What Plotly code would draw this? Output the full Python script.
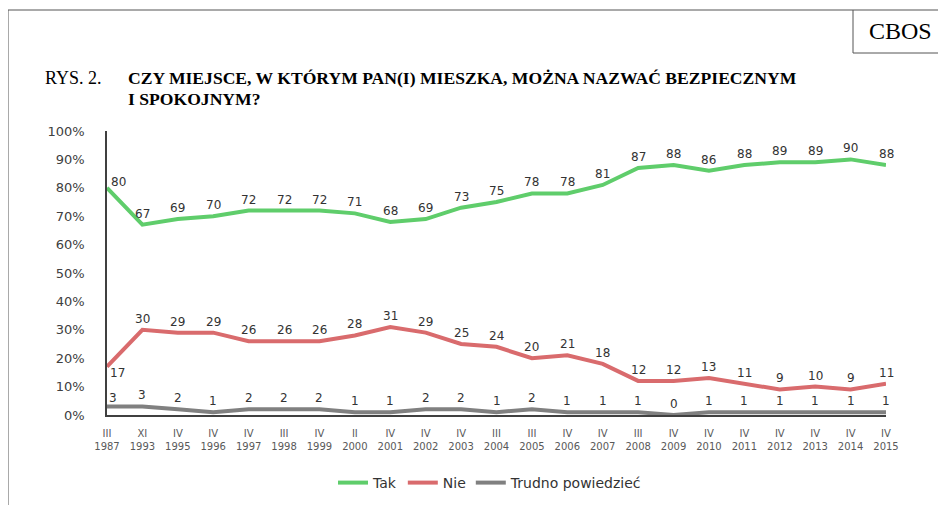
import plotly.graph_objects as go

quarters = ["III", "XI", "IV", "IV", "IV", "III", "IV", "II", "IV", "IV", "IV", "III",
            "III", "IV", "IV", "III", "IV", "IV", "IV", "IV", "IV", "IV", "IV"]
years = ["1987", "1993", "1995", "1996", "1997", "1998", "1999", "2000", "2001", "2002",
         "2003", "2004", "2005", "2006", "2007", "2008", "2009", "2010", "2011", "2012",
         "2013", "2014", "2015"]
tak = [80, 67, 69, 70, 72, 72, 72, 71, 68, 69, 73, 75, 78, 78, 81, 87, 88, 86, 88, 89, 89, 90, 88]
nie = [17, 30, 29, 29, 26, 26, 26, 28, 31, 29, 25, 24, 20, 21, 18, 12, 12, 13, 11, 9, 10, 9, 11]
trudno = [3, 3, 2, 1, 2, 2, 2, 1, 1, 2, 2, 1, 2, 1, 1, 1, 0, 1, 1, 1, 1, 1, 1]
y_ticks = [0, 10, 20, 30, 40, 50, 60, 70, 80, 90, 100]

series_names = ["Tak", "Nie", "Trudno powiedzieć"]
colors = ["#5fcd6b", "#d96b6d", "#808080"]

# The page body has an 8px default margin; work in window pixels and offset.
OFF = 8
WIN_W, WIN_H = 946, 505
W, H = WIN_W - OFF, WIN_H - OFF
L, R, T, B = 107, 886, 131, 415  # plot area in window pixels

def px(x):
    return (x - L) / (R - L)

def py(y):
    return (B - y) / (B - T)

xs = list(range(len(years)))
fig = go.Figure()
for name, vals, col in zip(series_names, [tak, nie, trudno], colors):
    fig.add_trace(go.Scatter(x=xs, y=vals, mode="lines", name=name,
                             line=dict(color=col, width=4), cliponaxis=False))

annotations = []
label_font = dict(family="DejaVu Sans", size=12, color="#333333")
for si, vals in enumerate([tak, nie, trudno]):
    for i, v in enumerate(vals):
        xshift, yshift = 0, 11
        if i == 0:
            if si == 0:
                xshift, yshift = 11, 6
            elif si == 1:
                xshift, yshift = 10, -6
            else:
                xshift, yshift = 6, 8
        annotations.append(dict(x=i, y=v, xref="x", yref="y", text=str(v), showarrow=False,
                                xshift=xshift, yshift=yshift, font=label_font))

# Header texts
annotations.append(dict(xref="paper", yref="paper", x=px(900), y=py(31), text="CBOS",
                        showarrow=False, xanchor="center", yanchor="middle",
                        font=dict(family="Liberation Serif", size=24, color="#000000")))
annotations.append(dict(xref="paper", yref="paper", x=px(43), y=py(78), text="RYS. 2.",
                        showarrow=False, xanchor="left", yanchor="middle",
                        font=dict(family="Liberation Serif", size=18, color="#000000")))
annotations.append(dict(xref="paper", yref="paper", x=px(126), y=py(78),
                        text="<b>CZY MIEJSCE, W KTÓRYM PAN(I) MIESZKA, MOŻNA NAZWAĆ BEZPIECZNYM</b>",
                        showarrow=False, xanchor="left", yanchor="middle",
                        font=dict(family="Liberation Serif", size=17.6, color="#000000")))
annotations.append(dict(xref="paper", yref="paper", x=px(126), y=py(99),
                        text="<b>I SPOKOJNYM?</b>",
                        showarrow=False, xanchor="left", yanchor="middle",
                        font=dict(family="Liberation Serif", size=17.6, color="#000000")))

shapes = [
    dict(type="line", xref="paper", yref="paper", x0=px(7), x1=px(950), y0=py(10), y1=py(10),
         line=dict(color="#555555", width=1)),
    dict(type="line", xref="paper", yref="paper", x0=px(8), x1=px(8), y0=py(10), y1=py(510),
         line=dict(color="#555555", width=1)),
    dict(type="line", xref="paper", yref="paper", x0=px(853), x1=px(853), y0=py(10), y1=py(53),
         line=dict(color="#555555", width=1)),
    dict(type="line", xref="paper", yref="paper", x0=px(853), x1=px(950), y0=py(53), y1=py(53),
         line=dict(color="#555555", width=1)),
]

fig.update_layout(
    template="none",
    width=W, height=H,
    margin=dict(l=L - OFF, r=WIN_W - R, t=T - OFF, b=WIN_H - B, pad=0, autoexpand=False),
    paper_bgcolor="white", plot_bgcolor="white",
    showlegend=True,
    legend=dict(orientation="h", xref="container", yref="container",
                x=(490 - OFF) / W, xanchor="center", y=1 - (483 - OFF) / H, yanchor="middle",
                font=dict(family="DejaVu Sans", size=14, color="#333333"),
                itemwidth=30, tracegroupgap=0, bgcolor="rgba(0,0,0,0)"),
    annotations=annotations,
    shapes=shapes,
    xaxis=dict(range=[0, len(years) - 1], tickvals=xs,
               ticktext=[f"{q}<br>{y}" for q, y in zip(quarters, years)],
               showgrid=False, zeroline=False, showline=True, linecolor="#404040", linewidth=1.5,
               ticks="", tickfont=dict(family="DejaVu Sans", size=10, color="#595959"),
               ticklabelstandoff=8, automargin=False, fixedrange=True),
    yaxis=dict(range=[0, 100], tickvals=y_ticks, ticktext=[f"{t}%" for t in y_ticks],
               showgrid=False, zeroline=False, showline=True, linecolor="#404040", linewidth=1.5,
               ticks="", tickfont=dict(family="DejaVu Sans", size=13, color="#404040"),
               ticklabelstandoff=18, automargin=False, fixedrange=True),
)

fig.write_html("out.html")
